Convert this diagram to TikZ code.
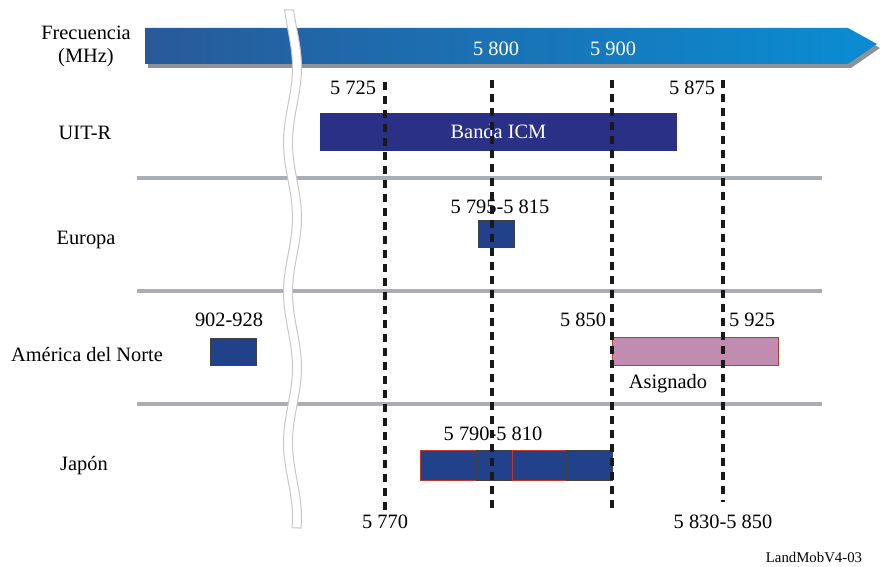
\documentclass[tikz,border=0pt]{standalone}
\usepackage{fontspec}
\setmainfont{Liberation Serif}
\usetikzlibrary{positioning,fit,calc}
\definecolor{bandleft}{HTML}{285A99}
\definecolor{bandmid}{HTML}{006EB6}
\definecolor{bandright}{HTML}{0A8DD3}
\definecolor{shadowgray}{HTML}{8D9298}
\definecolor{sepgray}{HTML}{A9AEB4}
\definecolor{icmblue}{HTML}{2B3087}
\definecolor{barblue}{HTML}{21418A}
\definecolor{asigpink}{HTML}{C08DB0}
\definecolor{redline}{HTML}{C0392B}

\begin{document}
\begin{tikzpicture}[x=0.5pt, y=-0.5pt,
    lbl/.style={font=\fontsize{10.2}{11.5}\selectfont, inner sep=1pt},
    bar/.style={fit={#1}, inner sep=0pt, fill=barblue, draw=black!75, line width=0.5pt},
    sepline/.style={line width=1.6pt, draw=sepgray},
    freqline/.style={line width=1.7pt, draw=black!90, dash pattern=on 4pt off 3pt}
]
\useasboundingbox (0,0) rectangle (880,567);

% Frequency band
\fill[shadowgray] (148,32) -- (851,32) -- (880,48) -- (851,68) -- (148,68) -- cycle;
\shade[left color=bandleft, middle color=bandmid, right color=bandright]
    (145,28) -- (848,28) -- (877,44) -- (848,64) -- (145,64) -- cycle;

% Row separators
\draw[sepline] (137,178) -- (822,178);
\draw[sepline] (137,291) -- (822,291);
\draw[sepline] (137,404) -- (822,404);

% Axis break
\filldraw[fill=white, draw=gray!45, line width=0.5pt]
    plot[variable=\t, domain=10:528, samples=70] ({288+4.5*sin(2.4*(\t-30))}, \t)
    -- plot[variable=\t, domain=528:10, samples=70] ({297+4.5*sin(2.4*(\t-30))}, \t) -- cycle;

% Labels
\node[lbl, align=center] (freq) at (86,46) {Frecuencia\\(MHz)};
\node[lbl, text=white] (f5800) at (496,49) {5 800};
\node[lbl, text=white] (f5900) at (613,49) {5 900};
\node[lbl] (f5725) at (353,88) {5 725};
\node[lbl] (f5875) at (692,88) {5 875};

\node[lbl] (uitr) at (85,133) {UIT-R};
\node[lbl] (europa) at (86,240) {Europa};
\node[lbl] (america) at (87,355) {América del Norte};
\node[lbl] (japon) at (84,466) {Japón};

% Bands
\node[bar={(320,113) (677,151)}, fill=icmblue, draw=none] (icm) {};
\node[lbl, text=white] (icmlbl) at (icm.center) {Banda ICM};
\node[bar={(478,221) (514,248)}] (eubar) {};
\node[bar={(210,339) (256,366)}] (nabar) {};
\node[bar={(612,338) (778,366)}, fill=asigpink, draw=redline] (asig) {};
\node[bar={(420,451) (476,481)}, draw=redline] (jp1) {};
\node[bar={(476,451) (512,481)}] (jp2) {};
\node[bar={(512,451) (566,481)}, draw=redline] (jp3) {};
\node[bar={(566,451) (612,481)}] (jp4) {};

\node[lbl] (eurange) at (500,207) {5 795-5 815};
\node[lbl] (narange) at (229,320) {902-928};
\node[lbl] (f5850) at (583,320) {5 850};
\node[lbl] (f5925) at (752,320) {5 925};
\node[lbl] (asiglbl) at (668,384) {Asignado};
\node[lbl] (jprange) at (493,434) {5 790-5 810};
\node[lbl] (f5770) at (385,522) {5 770};
\node[lbl] (f5830) at (723,522) {5 830-5 850};
\node[lbl, font=\fontsize{7.4}{9}\selectfont] (ref) at (814,557) {LandMobV4-03};

% Frequency markers
\coordinate (m1t) at (385,82);  \coordinate (m1b) at (385,510);
\coordinate (m2t) at (492,80);  \coordinate (m2b) at (492,510);
\coordinate (m3t) at (612,80);  \coordinate (m3b) at (612,510);
\coordinate (m4t) at (723,80);  \coordinate (m4b) at (723,502);
\draw[freqline] (m1t) -- (m1b);
\draw[freqline] (m2t) -- (m2b);
\draw[freqline] (m3t) -- (m3b);
\draw[freqline] (m4t) -- (m4b);

\end{tikzpicture}
\end{document}
